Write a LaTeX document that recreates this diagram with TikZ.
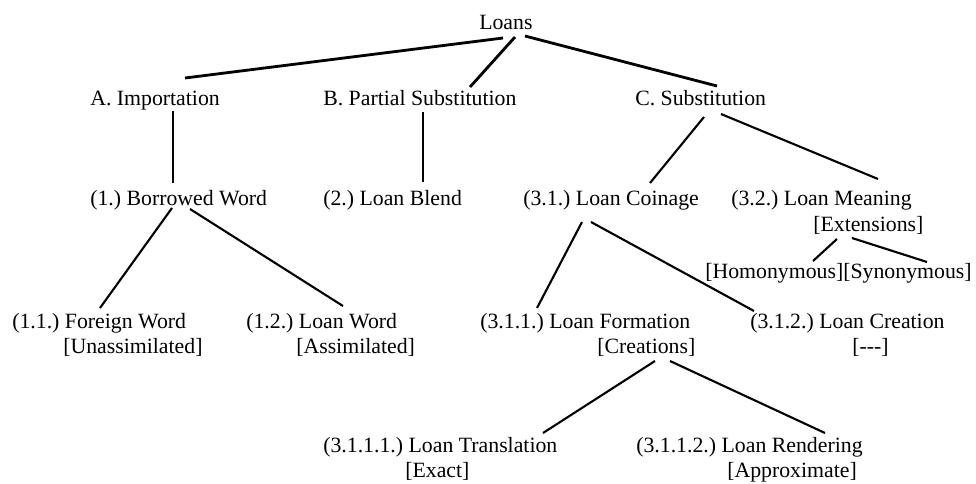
\documentclass[tikz,border=0pt]{standalone}
\usepackage{fontspec}
\setmainfont{Liberation Serif}
\usetikzlibrary{calc}
\frenchspacing

\begin{document}
\begin{tikzpicture}[
    x=0.025cm, y=-0.025cm,
    term/.style={
        anchor=base west,
        inner sep=0pt,
        font=\fontsize{15.5}{18}\selectfont
    },
    trunk/.style={line width=2pt, color=black},
    branch/.style={line width=1.5pt, color=black}
]
\useasboundingbox (0,0) rectangle (976,483);

% root and first level
\node[term] (loans) at (479,29) {Loans};
\node[term] (imp) at (90,105) {A. Importation};
\node[term] (part) at (323,105) {B. Partial Substitution};
\node[term] (subst) at (635,105) {C. Substitution};

% second level
\node[term] (borr) at (90,205) {(1.) Borrowed Word};
\node[term] (blend) at (323,205) {(2.) Loan Blend};
\node[term] (coin) at (523,205) {(3.1.) Loan Coinage};
\node[term] (mean) at (731,205) {(3.2.) Loan Meaning};
\node[term] (meanx) at (813,231) {[Extensions]};
\node[term] (homsyn) at (705,278) {[Homonymous][Synonymous]};

% third level
\node[term] (forw) at (12,328) {(1.1.) Foreign Word};
\node[term] (forwx) at (63,353) {[Unassimilated]};
\node[term] (loanw) at (246,328) {(1.2.) Loan Word};
\node[term] (loanwx) at (296,353) {[Assimilated]};
\node[term] (form) at (480,328) {(3.1.1.) Loan Formation};
\node[term] (formx) at (597,353) {[Creations]};
\node[term] (creat) at (750,328) {(3.1.2.) Loan Creation};
\node[term] (creatx) at (852,353) {[-{}-{}-]};

% fourth level
\node[term] (trans) at (323,452) {(3.1.1.1.) Loan Translation};
\node[term] (transx) at (405,477) {[Exact]};
\node[term] (rend) at (636,452) {(3.1.1.2.) Loan Rendering};
\node[term] (rendx) at (727,477) {[Approximate]};

% links
\draw[trunk] ($(loans.base west)+(24,9)$) -- ($(imp.base west)+(95,-27)$);
\draw[trunk] ($(loans.base west)+(36,8)$) -- ($(part.base west)+(147,-18)$);
\draw[trunk] ($(loans.base west)+(46,7)$) -- ($(subst.base west)+(82,-19)$);
\draw[trunk] ($(imp.base west)+(83,6)$) -- ($(borr.base west)+(83,-22)$);
\draw[trunk] ($(part.base west)+(100,7)$) -- ($(blend.base west)+(100,-23)$);
\draw[branch] ($(subst.base west)+(69,12)$) -- ($(coin.base west)+(127,-22)$);
\draw[branch] ($(subst.base west)+(86,9)$) -- ($(mean.base west)+(147,-26)$);
\draw[branch] ($(borr.base west)+(82,3)$) -- ($(forw.base west)+(88,-20)$);
\draw[branch] ($(borr.base west)+(100,4)$) -- ($(loanw.base west)+(97,-22)$);
\draw[branch] ($(coin.base west)+(59,17)$) -- ($(form.base west)+(57,-20)$);
\draw[branch] ($(coin.base west)+(68,17)$) -- ($(creat.base west)+(4,-17)$);
\draw[branch] ($(meanx.base west)+(24,8)$) -- ($(homsyn.base west)+(108,-17)$);
\draw[branch] ($(meanx.base west)+(39,7)$) -- ($(homsyn.base west)+(222,-16)$);
\draw[branch] ($(formx.base west)+(58,8)$) -- ($(trans.base west)+(220,-19)$);
\draw[branch] ($(formx.base west)+(73,8)$) -- ($(rend.base west)+(189,-19)$);

\end{tikzpicture}
\end{document}
